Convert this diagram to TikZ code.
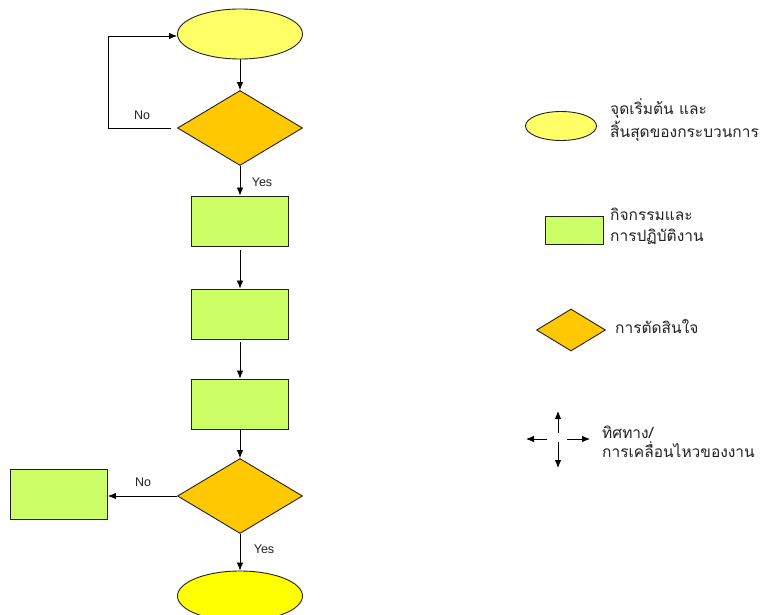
\documentclass[tikz,border=0pt]{standalone}
\usepackage{fontspec}
\setmainfont{Liberation Sans}
\newfontfamily\thaifont[Script=Thai]{Loma}
\usetikzlibrary{shapes.geometric,arrows.meta}
\definecolor{lightyel}{HTML}{FFFF66}
\definecolor{brightyel}{HTML}{FFFF00}
\definecolor{decorange}{HTML}{FFC800}
\definecolor{actgreen}{HTML}{CCFF66}
\definecolor{edge}{HTML}{222222}
\definecolor{txt}{HTML}{222222}
\tikzset{
  terminal/.style={ellipse,draw=edge,line width=0.9pt,fill=lightyel,minimum width=125pt,minimum height=50pt,inner sep=0pt},
  decision/.style={diamond,draw=edge,line width=0.9pt,fill=decorange,minimum width=125pt,minimum height=75pt,inner sep=0pt},
  activity/.style={rectangle,draw=edge,line width=0.9pt,fill=actgreen,minimum width=97pt,minimum height=50pt,inner sep=0pt},
  arr/.style={draw=black,line width=0.8pt,-{Latex[length=8pt,width=6.5pt]}},
  lbl/.style={font=\fontsize{12.5}{14}\selectfont,inner sep=0pt,text=txt},
  thai/.style={inner sep=0pt,anchor=west,align=left,text=txt}
}
\begin{document}
\begin{tikzpicture}[x=1pt,y=-1pt]
\useasboundingbox[fill=white] (0,0) rectangle (763,615);
% main flow
\node[terminal] (e1) at (240,34) {};
\node[decision] (d1) at (240,128) {};
\node[activity] (r1) at (240,221) {};
\node[activity] (r2) at (240,314) {};
\node[activity] (r3) at (240,404) {};
\node[decision] (d2) at (240,496) {};
\node[activity] (r4) at (59,494) {};
\node[terminal,fill=brightyel] (e2) at (240,596) {};
\coordinate (loopc) at (108,128);
% connectors
\draw[arr] (e1) -- (d1);
\draw[arr] ([xshift=-6pt]d1.west) -- (loopc) |- ([yshift=-2pt]e1.west);
\draw[arr] (d1) -- (r1);
\draw[arr,shorten <=4pt] (r1) -- (r2);
\draw[arr,shorten <=3pt] (r2) -- (r3);
\draw[arr] (r3) -- (d2);
\draw[arr] (d2.west) -- (r4.east |- d2.west);
\draw[arr] (d2) -- (e2);
% labels
\node[lbl] (no1) at (142,115) {No};
\node[lbl] (yes1) at (262,182) {Yes};
\node[lbl] (no2) at (143,482) {No};
\node[lbl] (yes2) at (264,549) {Yes};
% legend
\node[terminal,minimum width=71pt,minimum height=29pt] (le) at (561,126) {};
\node[activity,minimum width=58pt,minimum height=28pt] (lr) at (574,230) {};
\node[decision,minimum width=69pt,minimum height=42pt] (ld) at (571,330) {};
\coordinate (lu) at (558,411);
\coordinate (ldn) at (558,468);
\coordinate (ll) at (526,439);
\coordinate (lrt) at (590,439);
\draw[arr] ([yshift=-22pt]lu) -- (lu);
\draw[arr] ([yshift=26pt]ldn) -- (ldn);
\draw[arr] ([xshift=21pt]ll) -- (ll);
\draw[arr] ([xshift=-23pt]lrt) -- (lrt);
\node[thai,font=\thaifont\fontsize{15.5}{23}\selectfont] (t1) at (610,120) {จุดเริ่มต้น และ\\สิ้นสุดของกระบวนการ};
\node[thai,font=\thaifont\fontsize{15.5}{21}\selectfont] (t2) at (610,226) {กิจกรรมและ\\การปฏิบัติงาน};
\node[thai,font=\thaifont\fontsize{15.5}{16}\selectfont] (t3) at (615,327) {การตัดสินใจ};
\node[thai,font=\thaifont\fontsize{15.5}{19}\selectfont] (t4) at (602,442) {ทิศทาง/\\การเคลื่อนไหวของงาน};
\end{tikzpicture}
\end{document}
